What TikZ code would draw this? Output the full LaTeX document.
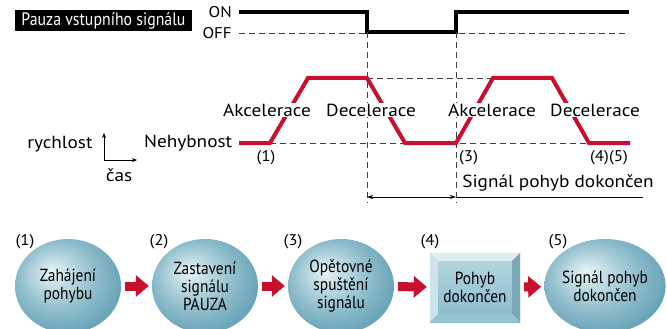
\documentclass[tikz,border=0pt]{standalone}
\usepackage{fontspec}
\setmainfont{PT Sans}[FakeStretch=1.1]
\newfontfamily\narrowsf[FakeStretch=0.88]{PT Sans}
\usetikzlibrary{arrows.meta,shapes.geometric}
\definecolor{speedred}{HTML}{C8102E}
\definecolor{bubblelight}{HTML}{EAF4F7}
\definecolor{bubblesoft}{HTML}{C4DEE6}
\definecolor{bubblemid}{HTML}{8CBBCA}
\definecolor{bubbledark}{HTML}{5E9CB2}
\definecolor{facelight}{HTML}{B9D9E3}
\definecolor{facedark}{HTML}{86BACA}
\pgfdeclareradialshading{bubble}{\pgfpoint{-8bp}{8bp}}{color(0bp)=(bubblelight); color(7bp)=(bubblesoft); color(19bp)=(bubblemid); color(32bp)=(bubbledark); color(50bp)=(bubbledark)}
\tikzset{
  guide/.style={dash pattern=on 6pt off 4pt, line width=.6pt, black!75},
  phase/.style={fill=white, inner sep=.6pt, font=\fontsize{17.5}{17.5}\selectfont},
  tag/.style={font=\fontsize{15.5}{15.5}\selectfont, inner sep=0pt},
  bubble/.style={ellipse, minimum width=106pt, minimum height=94pt, inner sep=0pt,
    shading=bubble, align=center, font=\narrowsf\fontsize{17.5}{18}\selectfont},
  donebox/.style={rectangle, minimum width=90pt, minimum height=69pt, inner sep=0pt,
    top color=facelight, bottom color=facedark, align=center,
    font=\narrowsf\fontsize{17.5}{18}\selectfont},
  flowarrow/.style={speedred, line width=9pt, shorten <=4pt, shorten >=3pt,
    -{Triangle[length=13pt,width=21pt]}}
}
\begin{document}
\begin{tikzpicture}[x=1pt,y=-1pt]
\useasboundingbox (0,0) rectangle (667,329);

% input signal
\node[fill=black, text=white, minimum width=177pt, minimum height=21pt, inner sep=0pt,
  font=\narrowsf\fontsize{18}{18}\selectfont] (pausebox) at (103.5,20.5) {Pauza vstupního signálu};
\node[tag, anchor=east] (on) at (232,12) {ON};
\node[tag, anchor=east] (off) at (232,33) {OFF};
\draw[guide] (239,33) -- (629,33);
\draw[line width=3.6pt] (239,12) -- (367,12) -- (367,32) -- (456,32) -- (456,12) -- (629,12);

% speed profile
\draw[guide] (367,32) -- (367,203);
\draw[guide] (456,32) -- (456,203);
\draw[guide] (270,143) -- (630,143);
\draw[guide] (367,78) -- (493,78);
\draw[speedred, line width=4pt] (239,143) -- (270,143) -- (308,78) -- (367,78) -- (405,143)
  -- (456,143) -- (493,78) -- (552,78) -- (589,143) -- (630,143);
\node[phase] (acc1) at (267,110) {Akcelerace};
\node[phase] (dec1) at (371,110) {Decelerace};
\node[phase] (acc2) at (492,110) {Akcelerace};
\node[phase] (dec2) at (595,110) {Decelerace};
\node[phase, fill=none, anchor=east] (still) at (233,143) {Nehybnost};
\node[phase, fill=none] (speed) at (60,144) {rychlost};
\draw[-{Stealth[length=5pt,width=4pt]}, line width=.9pt] (104,160) -- (104,133);
\draw[-{Stealth[length=5pt,width=4pt]}, line width=.9pt] (104,160) -- (137,160);
\node[phase, fill=none] (time) at (119,175) {čas};
\node[tag] (t1) at (266,158) {(1)};
\node[tag, anchor=west] (t3) at (459,158) {(3)};
\node[tag] (t45) at (609,158) {(4)(5)};
\node[phase, fill=none] (doneline) at (558,183) {Signál pohyb dokončen};
\draw[{Stealth[length=6pt,width=4pt]}-{Stealth[length=6pt,width=4pt]}, line width=.7pt] (367,197) -- (456,197);
\draw[line width=.7pt] (456,197) -- (643,197);

% sequence
\node[bubble] (c1) at (68,286) {Zahájení\\pohybu};
\node[bubble] (c2) at (205,286) {Zastavení\\signálu\\PAUZA};
\node[bubble] (c3) at (341,286) {Opětovné\\spuštění\\signálu};
\node[donebox] (b4) at (475,287.5) {Pohyb\\dokončen};
\fill[white!55!facelight] (b4.north west) -- (b4.north east) -- ([shift={(-8,8)}]b4.north east) -- ([shift={(8,8)}]b4.north west) -- cycle;
\fill[white!30!facelight] (b4.north west) -- ([shift={(8,8)}]b4.north west) -- ([shift={(8,-8)}]b4.south west) -- (b4.south west) -- cycle;
\fill[facedark!90!black] (b4.north east) -- ([shift={(-8,8)}]b4.north east) -- ([shift={(-8,-8)}]b4.south east) -- (b4.south east) -- cycle;
\fill[facedark!85!white] (b4.south west) -- ([shift={(8,-8)}]b4.south west) -- ([shift={(-8,-8)}]b4.south east) -- (b4.south east) -- cycle;
\node[bubble] (c5) at (605,286) {Signál pohyb\\dokončen};
\node[tag] (n1) at (25,242) {(1)};
\node[tag] (n2) at (159,242) {(2)};
\node[tag] (n3) at (293,242) {(3)};
\node[tag] (n4) at (430,242) {(4)};
\node[tag] (n5) at (558,242) {(5)};
\draw[flowarrow] (c1) -- (c2);
\draw[flowarrow] (c2) -- (c3);
\draw[flowarrow] (c3) -- (b4);
\draw[flowarrow] (b4) -- (c5);
\end{tikzpicture}
\end{document}
